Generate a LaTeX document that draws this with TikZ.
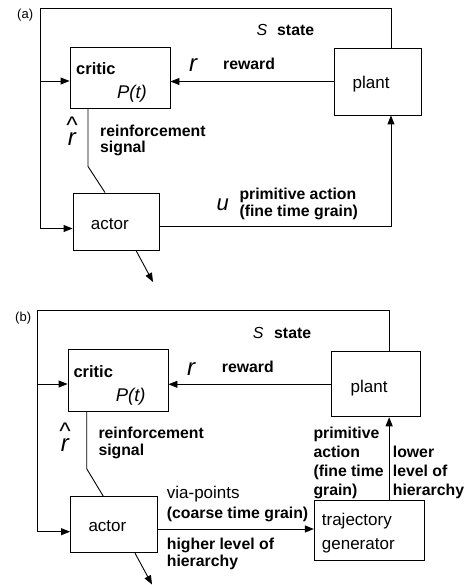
\documentclass[tikz,border=0pt]{standalone}
\usepackage{fontspec}
\setmainfont{Liberation Sans}
\usetikzlibrary{arrows.meta}
\begin{document}
\begin{tikzpicture}[x=1pt,y=-1pt,
  box/.style={draw, line width=0.9pt, inner sep=0pt},
  ln/.style={line width=0.9pt},
  arr/.style={line width=0.9pt, -{Triangle[length=9pt,width=7pt]}},
  lbl/.style={inner sep=0pt, anchor=base west, align=left, font=\fontsize{15.8}{17}\selectfont\bfseries},
  reg/.style={inner sep=0pt, anchor=base west, align=left, font=\fontsize{17}{23.6}\selectfont},
  sym/.style={inner sep=0pt, anchor=base west, font=\fontsize{22}{22}\selectfont\itshape},
  tag/.style={inner sep=0pt, anchor=base west, font=\fontsize{13}{13}\selectfont}
]
\useasboundingbox (0,0) rectangle (466,585);

% ---------------- panel (a) ----------------
\node[tag] (la) at (17,19) {(a)};
\node[box, minimum width=100pt, minimum height=61pt] (critA) at (120,77.5) {};
\node[box, minimum width=87pt, minimum height=67pt] (plantA) at (377.5,81.5) {};
\node[box, minimum width=86pt, minimum height=57pt] (actorA) at (116,221.5) {};
\coordinate (cA) at (40,8);
\coordinate (oA) at (153,282);

\node[lbl, font=\fontsize{16.5}{17}\selectfont\bfseries] (tcritA) at (76,75) {critic};
\node[sym, font=\fontsize{18.4}{18}\selectfont\itshape] (tpA) at (117,98.5) {P(t)};
\node[reg] (tplantA) at (352.5,88.3) {plant};
\node[reg] (tactorA) at (90.7,229) {actor};
\node[sym, font=\fontsize{16}{16}\selectfont\itshape] (tsA) at (256.5,35.5) {S};
\node[lbl] (tstateA) at (277,35.5) {state};
\node[sym, font=\fontsize{24}{24}\selectfont\itshape] (trA) at (189,71.7) {r};
\node[lbl] (trewA) at (223,70) {reward};
\node[inner sep=0pt, anchor=south west, align=center, font=\fontsize{24}{12}\selectfont\itshape] (trhA) at (66,145.5) {\textasciicircum\\[-2pt]r};
\node[lbl, font=\fontsize{15.8}{16}\selectfont\bfseries] (treinfA) at (100,152.5) {reinforcement\\signal};
\node[sym] (tuA) at (216.5,210.7) {u};
\node[lbl] (tprimA) at (239.3,216) {primitive action\\(fine time grain)};

\draw[arr] ([xshift=-30.5pt]plantA.north east) |- (cA) |- ([yshift=-7pt]actorA.west);
\draw[arr] ([yshift=-3.5pt]critA.west -| cA) -- ([yshift=-3.5pt]critA.west);
\draw[arr] (plantA.west) -- (plantA.west -| critA.east);
\draw[ln] ([xshift=-32pt]critA.south) -- ++(0,58) -- ([xshift=-11pt]actorA.north);
\draw[arr] ([yshift=-5pt]actorA.east) -| ([xshift=-30.5pt]plantA.south east);
\draw[arr] ([xshift=20pt]actorA.south) -- (oA);

% ---------------- panel (b) ----------------
\node[tag] (lb) at (15,321) {(b)};
\node[box, minimum width=100pt, minimum height=62pt] (critB) at (118,380) {};
\node[box, minimum width=89pt, minimum height=65pt] (plantB) at (375.5,384.3) {};
\node[box, minimum width=87pt, minimum height=56pt] (actorB) at (114,524.7) {};
\node[box, minimum width=110pt, minimum height=60pt] (trajB) at (369.3,530.8) {};
\coordinate (cB) at (37,310.7);
\coordinate (oB) at (152,584.5);

\node[lbl, font=\fontsize{16.5}{17}\selectfont\bfseries] (tcritB) at (73.3,377.7) {critic};
\node[sym, font=\fontsize{18.4}{18}\selectfont\itshape] (tpB) at (115.7,401.5) {P(t)};
\node[reg] (tplantB) at (350.5,392.3) {plant};
\node[reg] (tactorB) at (88.3,531.7) {actor};
\node[reg] (ttrajB) at (321.7,549.3) {trajectory\\generator};
\node[sym, font=\fontsize{16}{16}\selectfont\itshape] (tsB) at (252.7,338) {S};
\node[lbl] (tstateB) at (274,338.3) {state};
\node[sym, font=\fontsize{24}{24}\selectfont\itshape] (trB) at (187,375.7) {r};
\node[lbl] (trewB) at (221.7,372.3) {reward};
\node[inner sep=0pt, anchor=south west, align=center, font=\fontsize{24}{12}\selectfont\itshape] (trhB) at (59,452) {\textasciicircum\\[-2pt]r};
\node[lbl] (treinfB) at (98.3,455) {reinforcement\\signal};
\node[reg, font=\fontsize{17}{20}\selectfont] (tviaB) at (166.7,498.3) {via-points};
\node[lbl] (tcoarseB) at (166.7,518.3) {(coarse time grain)};
\node[lbl] (thighB) at (166.7,566) {higher level of\\hierarchy};
\node[lbl, font=\fontsize{15.8}{19}\selectfont\bfseries] (tprimB) at (313.3,495) {primitive\\action\\(fine time\\grain)};
\node[lbl, font=\fontsize{15.8}{19}\selectfont\bfseries] (tlowB) at (392.7,495) {lower\\level of\\hierarchy};

\draw[arr] ([xshift=-31pt]plantB.north east) |- (cB) |- ([yshift=-7pt]actorB.west);
\draw[arr] ([yshift=-4pt]critB.west -| cB) -- ([yshift=-4pt]critB.west);
\draw[arr] (plantB.west) -- (plantB.west -| critB.east);
\draw[ln] ([xshift=-31.3pt]critB.south) -- ++(0,57.3) -- ([xshift=-10.7pt]actorB.north);
\draw[arr] ([yshift=-4.3pt]actorB.east) -- ([yshift=-4.3pt]actorB.east -| trajB.west);
\draw[arr] ([xshift=-35.6pt]trajB.north east) -- ([xshift=-35.6pt]trajB.north east |- plantB.south);
\draw[arr] ([xshift=21pt]actorB.south) -- (oB);
\end{tikzpicture}
\end{document}
